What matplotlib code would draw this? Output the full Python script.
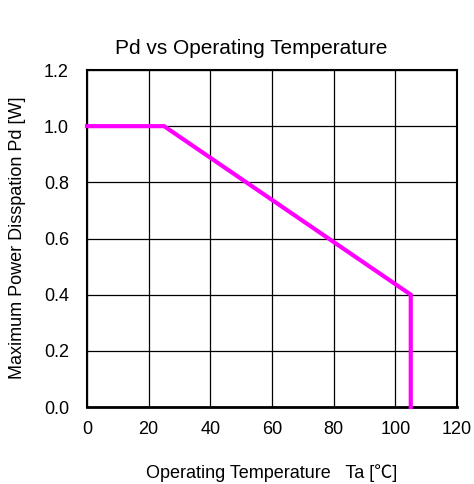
import matplotlib
matplotlib.use("Agg")
import matplotlib.pyplot as plt

temps = [0, 25, 105, 105]
pd_vals = [1.0, 1.0, 0.4, 0.0]
x_ticks = [0, 20, 40, 60, 80, 100, 120]
y_ticks = [0.0, 0.2, 0.4, 0.6, 0.8, 1.0, 1.2]

plt.rcParams['font.family'] = ['Liberation Sans', 'DejaVu Sans']

fig = plt.figure(figsize=(4.74, 4.84), dpi=100)
ax = fig.add_axes([87/474, 1-407/484, (457-87)/474, (407-70)/484])
ax.plot(temps, pd_vals, color='#ff00ff', lw=3, solid_joinstyle='miter', zorder=3, clip_on=False)
ax.set_xlim(0, 120)
ax.set_ylim(0, 1.2)
ax.set_xticks(x_ticks)
ax.set_yticks(y_ticks)
ax.set_xticklabels([str(v) for v in x_ticks])
ax.set_yticklabels([f"{v:.1f}" for v in y_ticks])
ax.grid(True, color='black', lw=0.9)
ax.tick_params(length=0, labelsize=13)
ax.tick_params(axis='x', pad=10)
ax.tick_params(axis='y', pad=13)
for s in ax.spines.values():
    s.set_linewidth(1.5)
    s.set_color('black')
ax.spines['bottom'].set_linewidth(2)
fig.text(272/474, 1-473/484, 'Operating Temperature   Ta [\u2103]', fontsize=13, ha='center', va='center',
         family=['Liberation Sans', 'Noto Sans CJK JP', 'DejaVu Sans'])
fig.text(18/474, 1-238/484, 'Maximum Power Disspation Pd [W]', fontsize=13, ha='center', va='center', rotation=90)
fig.text(251/474, 1-48/484, 'Pd vs Operating Temperature', fontsize=15, ha='center', va='center')
fig.savefig('out.png', dpi=100)
